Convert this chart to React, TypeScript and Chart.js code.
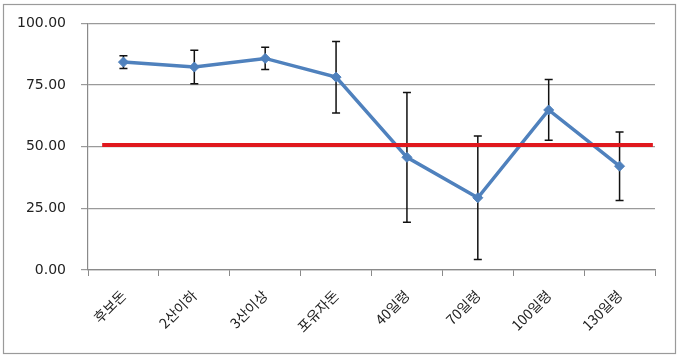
import React, { useEffect, useRef } from "react";
import { Chart, registerables } from "chart.js";

Chart.register(...registerables);

const categories = ["후보돈", "2산이하", "3산이상", "포유자돈", "40일령", "70일령", "100일령", "130일령"];
const means = [84.3, 82.3, 85.8, 78.2, 45.7, 29.3, 64.9, 42.1];
const errors = [2.6, 6.8, 4.5, 14.5, 26.3, 25.0, 12.3, 13.9];
const refLineX = [0.2, 7.97];
const refLineY = [50.7, 50.7];
const yTicks = [0, 25, 50, 75, 100];

const errorBarPlugin = {
  id: "errorBars",
  beforeDatasetsDraw(chart: any) {
    const ctx = chart.ctx;
    const meta = chart.getDatasetMeta(1);
    const y = chart.scales.y;
    ctx.save();
    ctx.strokeStyle = "#111";
    ctx.lineWidth = 1.5;
    meta.data.forEach((pt: any, i: number) => {
      const x = pt.x;
      const top = y.getPixelForValue(means[i] + errors[i]);
      const bot = y.getPixelForValue(means[i] - errors[i]);
      ctx.beginPath();
      ctx.moveTo(x, top);
      ctx.lineTo(x, bot);
      ctx.moveTo(x - 4, top);
      ctx.lineTo(x + 4, top);
      ctx.moveTo(x - 4, bot);
      ctx.lineTo(x + 4, bot);
      ctx.stroke();
    });
    ctx.restore();
  },
};

const borderPlugin = {
  id: "outerBorder",
  beforeDraw(chart: any) {
    const ctx = chart.ctx;
    ctx.save();
    ctx.fillStyle = "#fff";
    ctx.fillRect(0, 0, chart.width, chart.height);
    ctx.strokeStyle = "#9a9a9a";
    ctx.lineWidth = 1.2;
    ctx.strokeRect(3.5, 4.5, 672, 349);
    ctx.restore();
  },
};

export default function App() {
  const ref = useRef<HTMLCanvasElement>(null);
  useEffect(() => {
    if (!ref.current) return;
    const chart = new Chart(ref.current, {
      type: "line",
      data: {
        labels: categories,
        datasets: [
          {
            label: "ref",
            data: refLineX.map((x, i) => ({ x, y: refLineY[i] })),
            xAxisID: "x2",
            borderColor: "#E0181E",
            borderWidth: 4,
            pointRadius: 0,
            fill: false,
          } as any,
          {
            label: "mean",
            data: means,
            xAxisID: "x",
            borderColor: "#4F81BD",
            backgroundColor: "#4F81BD",
            borderWidth: 3.5,
            pointStyle: "rectRot",
            pointRadius: 5,
            pointBorderWidth: 1,
            pointBackgroundColor: "#4F81BD",
            pointBorderColor: "#4F81BD",
            fill: false,
            tension: 0,
          },
        ],
      },
      options: {
        animation: false,
        responsive: false,
        layout: { padding: { left: 0, right: 25, top: 22, bottom: 0 } },
        plugins: { legend: { display: false }, tooltip: { enabled: false } },
        scales: {
          x: {
            type: "category",
            offset: true,
            grid: {
              offset: true,
              drawOnChartArea: false,
              drawTicks: true,
              tickLength: 6,
              color: "#8a8a8a",
            },
            border: { color: "#8a8a8a", width: 1.2 },
            ticks: {
              minRotation: 45,
              maxRotation: 45,
              padding: 11,
              color: "#222",
              font: { family: "'Noto Sans CJK KR'", size: 14 },
            },
            afterFit(scale: any) {
              scale.height = 88;
            },
          },
          x2: {
            type: "linear",
            display: false,
            min: 0,
            max: 8,
          },
          y: {
            min: 0,
            max: 100,
            afterBuildTicks(scale: any) {
              scale.ticks = yTicks.map((v) => ({ value: v }));
            },
            grid: {
              color: "#9a9a9a",
              lineWidth: 1.2,
              tickLength: 7,
            },
            border: { color: "#8a8a8a", width: 1.2 },
            ticks: {
              padding: 15,
              color: "#222",
              font: { family: "'DejaVu Sans'", size: 14 },
              callback: (v: any) => Number(v).toFixed(2),
            },
            afterFit(scale: any) {
              scale.width = 88;
            },
          },
        },
      } as any,
      plugins: [errorBarPlugin, borderPlugin],
    });
    return () => chart.destroy();
  }, []);
  return (
    <div style={{ position: "fixed", left: 0, top: 0, width: 680, height: 358 }}>
      <canvas ref={ref} width={680} height={358} style={{ width: 680, height: 358 }} />
    </div>
  );
}
